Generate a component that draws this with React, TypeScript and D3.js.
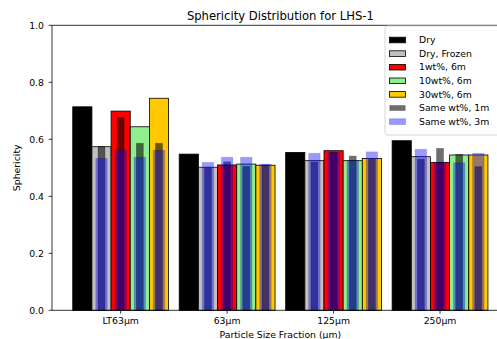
import React from 'react'
import { scaleLinear } from 'd3'

// values
const categories = ['LT63µm', '63µm', '125µm', '250µm']
const yTicks = [0, 0.2, 0.4, 0.6, 0.8, 1.0]

const dry = [0.714, 0.548, 0.554, 0.595]
const dryFrozen = [0.574, 0.502, 0.525, 0.539]
const wt1 = [0.699, 0.51, 0.56, 0.519]
const wt10 = [0.644, 0.513, 0.525, 0.545]
const wt30 = [0.744, 0.509, 0.533, 0.545]

// overlays sit on Dry Frozen, 1wt, 10wt, 30wt slots
const sameWt1m = [
  [0.575, 0.5, 0.52, 0.53],
  [0.676, 0.521, 0.555, 0.568],
  [0.586, 0.505, 0.541, 0.547],
  [0.586, 0.51, 0.53, 0.504],
]
const sameWt3m = [
  [0.533, 0.519, 0.551, 0.565],
  [0.562, 0.537, 0.554, 0.519],
  [0.537, 0.537, 0.525, 0.518],
  [0.562, 0.513, 0.556, 0.551],
]

const mainSeries = [
  { name: 'Dry', values: dry, color: '#000000' },
  { name: 'Dry, Frozen', values: dryFrozen, color: '#c0c0c0' },
  { name: '1wt%, 6m', values: wt1, color: '#ff0000' },
  { name: '10wt%, 6m', values: wt10, color: '#90ee90' },
  { name: '30wt%, 6m', values: wt30, color: '#ffc800' },
]

const W = 497
const H = 339
const left = 52
const top = 25.3
const bottom = 310.3
const barW = 0.18
const w1m = 0.065
const w3m = 0.108
const font = 'DejaVu Sans, sans-serif'

export default () => {
  const x = scaleLinear().domain([-0.645, 3.645]).range([left, 508.7])
  const y = scaleLinear().domain([0, 1]).range([bottom, top])
  const off = (i: number) => (i - 2) * barW

  const legendItems = [
    ...mainSeries.map(s => ({ name: s.name, fill: s.color, op: 1, stroke: '#000' })),
    { name: 'Same wt%, 1m', fill: '#000', op: 0.57, stroke: 'none' },
    { name: 'Same wt%, 3m', fill: '#0000ff', op: 0.4, stroke: '#0000ff' },
  ]

  return (
    <svg width={W} height={H} style={{ position: 'absolute', left: 0, top: 0 }} fontFamily={font}>
      <rect width={W} height={H} fill="#fff" />
      {/* main bars */}
      {mainSeries.map((s, si) =>
        s.values.map((v, ci) => (
          <rect
            key={`m${si}-${ci}`}
            x={x(ci + off(si) - barW / 2)}
            y={y(v)}
            width={x(barW) - x(0)}
            height={y(0) - y(v)}
            fill={s.color}
            stroke="#000"
            strokeWidth={0.8}
          />
        ))
      )}
      {/* same wt%, 1m */}
      {sameWt1m.map((vals, k) =>
        vals.map((v, ci) => (
          <rect
            key={`a${k}-${ci}`}
            x={x(ci + off(k + 1) - w1m / 2)}
            y={y(v)}
            width={x(w1m) - x(0)}
            height={y(0) - y(v)}
            fill="#000"
            fillOpacity={0.57}
            stroke="#000"
            strokeOpacity={0.3}
            strokeWidth={0.8}
          />
        ))
      )}
      {/* same wt%, 3m */}
      {sameWt3m.map((vals, k) =>
        vals.map((v, ci) => (
          <rect
            key={`b${k}-${ci}`}
            x={x(ci + off(k + 1) - w3m / 2)}
            y={y(v)}
            width={x(w3m) - x(0)}
            height={y(0) - y(v)}
            fill="#0000ff"
            fillOpacity={0.4}
            stroke="#000"
            strokeOpacity={0.15}
            strokeWidth={0.8}
          />
        ))
      )}

      {/* spines */}
      <line x1={left} x2={W} y1={top} y2={top} stroke="#000" strokeWidth={0.8} />
      <line x1={left} x2={W} y1={bottom} y2={bottom} stroke="#000" strokeWidth={0.8} />
      <line x1={left} x2={left} y1={top} y2={bottom} stroke="#000" strokeWidth={0.8} />

      {/* y axis */}
      {yTicks.map(t => (
        <g key={t}>
          <line x1={left - 3.3} x2={left} y1={y(t)} y2={y(t)} stroke="#000" strokeWidth={0.8} />
          <text x={left - 8} y={y(t)} dy="0.35em" textAnchor="end" fontSize={9.3} fill="#000">
            {t.toFixed(1)}
          </text>
        </g>
      ))}
      <text
        transform={`translate(20, ${(top + bottom) / 2}) rotate(-90)`}
        textAnchor="middle"
        fontSize={9.3}
        fill="#000"
      >
        Sphericity
      </text>

      {/* x axis */}
      {categories.map((c, i) => (
        <g key={c}>
          <line x1={x(i)} x2={x(i)} y1={bottom} y2={bottom + 3.3} stroke="#000" strokeWidth={0.8} />
          <text x={x(i)} y={bottom + 14} textAnchor="middle" fontSize={9.3} fill="#000">
            {c}
          </text>
        </g>
      ))}
      <text x={(left + 508.7) / 2} y={337.5} textAnchor="middle" fontSize={9.3} fill="#000">
        Particle Size Fraction (µm)
      </text>

      <text x={(left + 508.7) / 2} y={19.5} textAnchor="middle" fontSize={11.6} fill="#000">
        Sphericity Distribution for LHS-1
      </text>

      {/* legend */}
      <rect x={385} y={26} width={125} height={109} rx={2.5} fill="#fff" fillOpacity={0.8} stroke="#ccc" strokeWidth={0.8} />
      {legendItems.map((d, i) => (
        <g key={d.name} transform={`translate(389.5, ${40 + i * 13.6})`}>
          <rect
            x={0}
            y={-2.8}
            width={16}
            height={5.6}
            fill={d.fill}
            fillOpacity={d.op}
            stroke={d.stroke}
            strokeOpacity={d.op < 1 ? 0.3 : 1}
            strokeWidth={0.8}
          />
          <text x={29.5} y={0} dy="0.35em" fontSize={9.3} fill="#000">
            {d.name}
          </text>
        </g>
      ))}
    </svg>
  )
}
